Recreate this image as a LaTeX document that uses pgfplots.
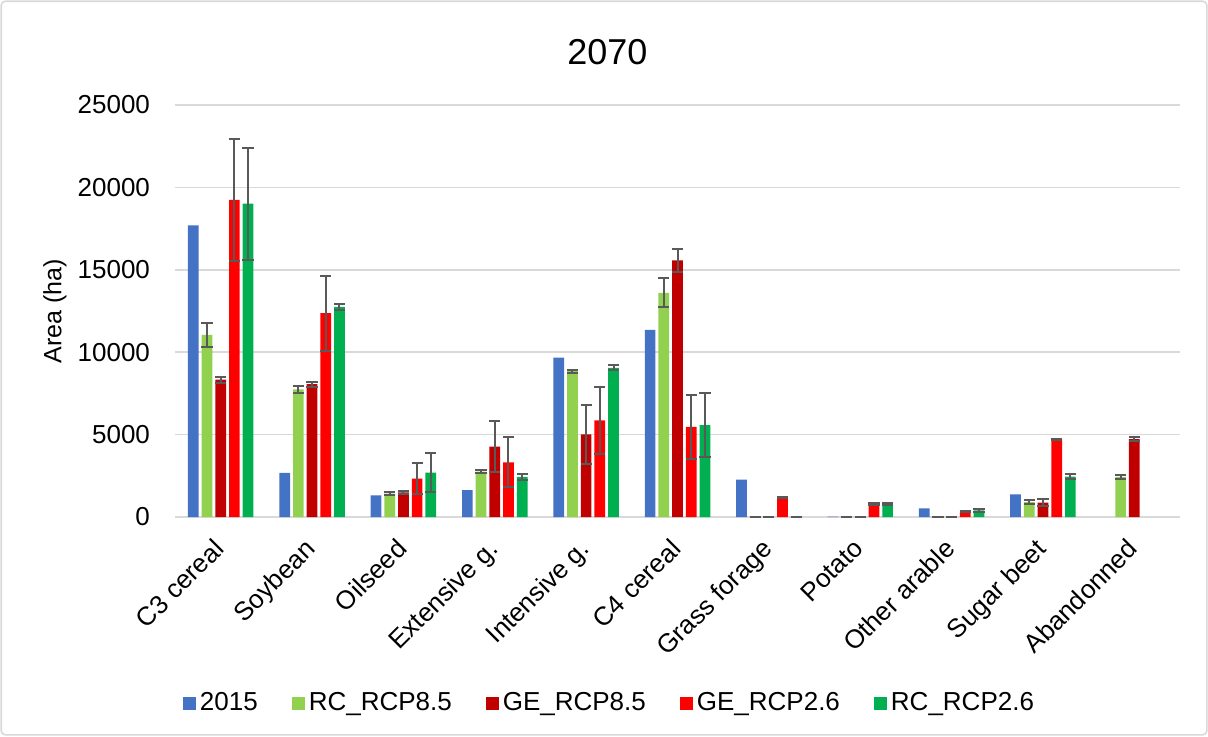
\documentclass[border=0pt]{standalone}
\usepackage{fontspec}
\setmainfont{Liberation Sans}
\usepackage{pgfplots}
\pgfplotsset{compat=1.18}
\usepackage{pgfplotstable}

\definecolor{cA}{HTML}{4472C4}
\definecolor{cB}{HTML}{92D050}
\definecolor{cC}{HTML}{C00000}
\definecolor{cD}{HTML}{FF0000}
\definecolor{cE}{HTML}{00B050}
\definecolor{errc}{HTML}{595959}
\definecolor{gridc}{HTML}{D9D9D9}

% 2015
\pgfplotstableread{
x y
0 17700
1 2680
2 1320
3 1630
4 9670
5 11350
6 2270
7 20
8 530
9 1380
}\tA
% RC_RCP8.5
\pgfplotstableread{
x y e
0 11050 730
1 7750 220
2 1420 80
3 2750 80
4 8850 100
5 13600 880
6 0 0
7 0 0
8 0 0
9 900 120
10 2440 130
}\tB
% GE_RCP8.5
\pgfplotstableread{
x y e
0 8330 190
1 8060 150
2 1500 100
3 4270 1560
4 5020 1780
5 15580 700
6 0 0
7 0 0
8 0 0
9 870 200
10 4730 110
}\tC
% GE_RCP2.6
\pgfplotstableread{
x y e
0 19250 3700
1 12370 2280
2 2330 960
3 3320 1520
4 5860 2020
5 5470 1960
6 1180 40
7 780 50
8 330 50
9 4720 40
}\tD
% RC_RCP2.6
\pgfplotstableread{
x y e
0 19020 3400
1 12750 200
2 2700 1170
3 2440 200
4 9050 150
5 5580 1950
6 0 0
7 760 60
8 400 110
9 2450 140
}\tE

\begin{document}
\begin{tikzpicture}
\path[use as bounding box] (0,0) rectangle (604pt,368pt);
\draw[gridc, line width=0.8pt, rounded corners=2pt] (0.6pt,0.6pt) rectangle (603.4pt,367.4pt);
\begin{axis}[
  at={(87.5pt,109.5pt)}, anchor=south west,
  scale only axis, width=502.5pt, height=206pt,
  ybar=1.5pt, bar width=5.35pt,
  xmin=-0.5, xmax=10.5, ymin=0, ymax=25000,
  xtick={0,...,10},
  xticklabels={C3 cereal,Soybean,Oilseed,Extensive g.,Intensive g.,C4 cereal,Grass forage,Potato,Other arable,Sugar beet,Abandonned},
  xticklabel style={rotate=45, anchor=north east, font=\fontsize{13}{15}\selectfont, inner sep=1pt, xshift=-9pt, yshift=-3pt},
  ytick={0,5000,...,25000},
  yticklabel style={font=\fontsize{13}{15}\selectfont, xshift=-9pt},
  /pgf/number format/assume math mode=true,
  /pgf/number format/set thousands separator={},
  scaled y ticks=false,
  major tick length=0pt,
  ymajorgrids, grid style={draw=gridc, line width=0.8pt},
  separate axis lines,
  axis x line*=bottom, axis y line*=left,
  x axis line style={draw=gridc, line width=0.8pt, -},
  y axis line style={draw=none},
  title={2070},
  title style={font=\fontsize{18}{22}\selectfont, at={(axis description cs:0.4303,1)}, anchor=center, yshift=20.5pt},
  ylabel={Area (ha)},
  ylabel style={font=\fontsize{12.5}{15}\selectfont, at={(axis description cs:-0.1194,0.5)}, anchor=center},
  legend columns=5,
  legend style={at={(axis description cs:0.4333,-0.452)}, anchor=center, draw=none, fill=none,
    font=\fontsize{13}{15}\selectfont,
    /tikz/every even column/.append style={column sep=15pt}},
  legend image code/.code={\fill[#1] (0pt,-3.2pt) rectangle (6.5pt,3.3pt);},
  error bars/y dir=both, error bars/y explicit,
  error bars/error bar style={color=errc, line width=1pt},
  error bars/error mark options={rotate=90, mark size=2.8pt, line width=1pt, color=errc},
]
\addplot[fill=cA, draw=none, error bars/y dir=none] table[x=x, y=y] {\tA};
\addplot[fill=cB, draw=none] table[x=x, y=y, y error=e] {\tB};
\addplot[fill=cC, draw=none] table[x=x, y=y, y error=e] {\tC};
\addplot[fill=cD, draw=none] table[x=x, y=y, y error=e] {\tD};
\addplot[fill=cE, draw=none] table[x=x, y=y, y error=e] {\tE};
\legend{2015,RC\_RCP8.5,GE\_RCP8.5,GE\_RCP2.6,RC\_RCP2.6}
\end{axis}
\end{tikzpicture}
\end{document}
